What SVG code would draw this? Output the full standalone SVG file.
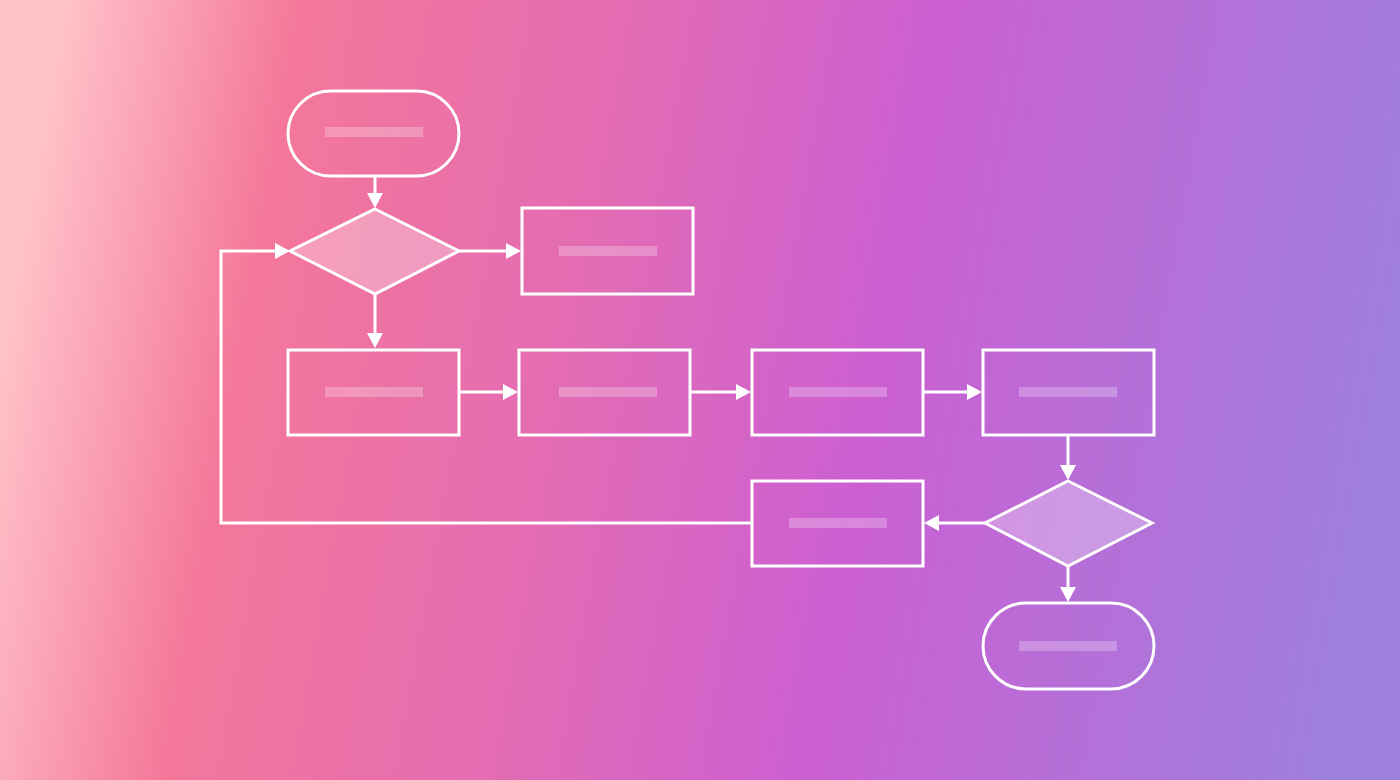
<svg xmlns="http://www.w3.org/2000/svg" width="1400" height="780" viewBox="0 0 1400 780">
<defs>
<linearGradient id="bg" x1="0" y1="0.45" x2="1" y2="0.55">
<stop offset="0" stop-color="#ffc3c9"/>
<stop offset="0.17" stop-color="#f4779a"/>
<stop offset="0.4" stop-color="#e36cb3"/>
<stop offset="0.62" stop-color="#cc5fd2"/>
<stop offset="1" stop-color="#9d80de"/>
</linearGradient>
<marker id="ah" viewBox="0 0 10 10" refX="9" refY="5" markerWidth="5" markerHeight="5" orient="auto" markerUnits="userSpaceOnUse" style="overflow:visible">
<path d="M0,0 L10,5 L0,10 z" fill="#fff" transform="scale(1.5) translate(-3,-1.67)"/>
</marker>
<style>
.n{fill:none;stroke:#fff;stroke-width:3}
.bar{fill:#fff;fill-opacity:0.25}
.c{fill:none;stroke:#fff;stroke-width:3}
.a{fill:#fff}
</style>
</defs>
<rect width="1400" height="780" fill="url(#bg)"/>
<g id="connectors">
<path class="c" d="M375,176V194"/><path class="a" d="M367,193L383,193L375,208z"/>
<path class="c" d="M459,251H507"/><path class="a" d="M506,243L506,259L521,251z"/>
<path class="c" d="M375,294V334"/><path class="a" d="M367,333L383,333L375,348z"/>
<path class="c" d="M459,392H504"/><path class="a" d="M503,384L503,400L518,392z"/>
<path class="c" d="M690,392H737"/><path class="a" d="M736,384L736,400L751,392z"/>
<path class="c" d="M923,392H968"/><path class="a" d="M967,384L967,400L982,392z"/>
<path class="c" d="M1068,435V466"/><path class="a" d="M1060,465L1076,465L1068,480z"/>
<path class="c" d="M985,523H938"/><path class="a" d="M939,515L939,531L924,523z"/>
<path class="c" d="M1068,566V588"/><path class="a" d="M1060,587L1076,587L1068,602z"/>
<path class="c" d="M752,523H221V251H276"/><path class="a" d="M275,243L275,259L290,251z"/>
</g>
<g id="start"><rect class="n" x="288" y="91" width="171" height="85" rx="42.5"/><rect class="bar" x="325" y="127" width="98" height="10"/></g>
<g id="decision1"><path d="M375,209L459,251L375,294L290,251z" fill="#fff" fill-opacity="0.3" stroke="#fff" stroke-width="3"/></g>
<g id="boxTop"><rect class="n" x="522" y="208" width="171" height="86"/><rect class="bar" x="559" y="246" width="98" height="10"/></g>
<g id="box1"><rect class="n" x="288" y="350" width="171" height="85"/><rect class="bar" x="325" y="387" width="98" height="10"/></g>
<g id="box2"><rect class="n" x="519" y="350" width="171" height="85"/><rect class="bar" x="559" y="387" width="98" height="10"/></g>
<g id="box3"><rect class="n" x="752" y="350" width="171" height="85"/><rect class="bar" x="789" y="387" width="98" height="10"/></g>
<g id="box4"><rect class="n" x="983" y="350" width="171" height="85"/><rect class="bar" x="1019" y="387" width="98" height="10"/></g>
<g id="decision2"><path d="M1068,481L1152,523L1068,566L985,523z" fill="#fff" fill-opacity="0.3" stroke="#fff" stroke-width="3"/></g>
<g id="boxLoop"><rect class="n" x="752" y="481" width="171" height="85"/><rect class="bar" x="789" y="518" width="98" height="10"/></g>
<g id="end"><rect class="n" x="983" y="603" width="171" height="86" rx="43"/><rect class="bar" x="1019" y="641" width="98" height="10"/></g>
</svg>
